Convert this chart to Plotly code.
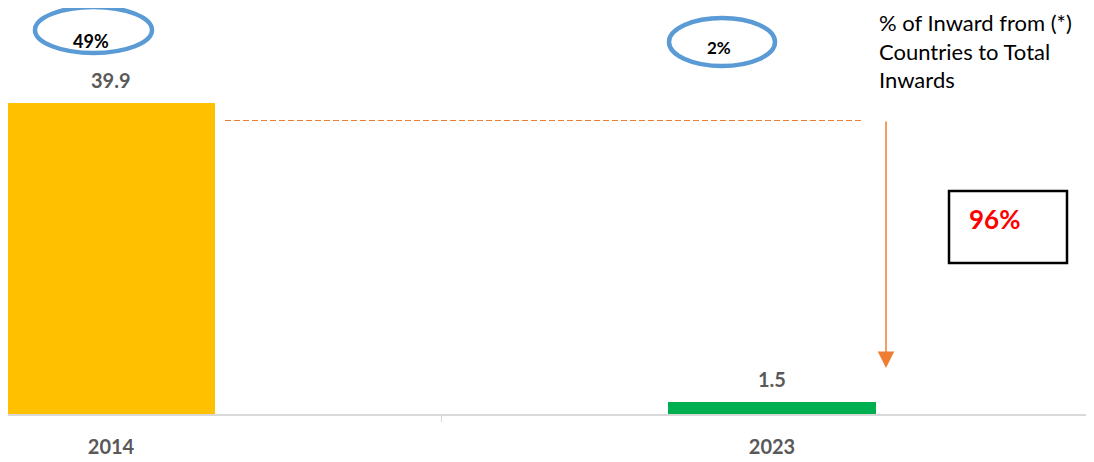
import plotly.graph_objects as go

categories = ["2014", "2023"]
values = [39.9, 1.5]
value_labels = ["39.9", "1.5"]
share_labels = ["49%", "2%"]
share_sizes = [18, 17]
bar_colors = ["#FFC000", "#00B050"]
decline_label = "96%"
note_text = "% of Inward from (*)<br>Countries to Total<br>Inwards"

W, H = 1094, 462
OFF = 8            # page body offset
B = 56
PLOT_H = H - B     # 406

def px(x):
    return (x - OFF) / W

def py(y):
    return (PLOT_H - (y - OFF)) / PLOT_H

xpos = list(range(len(categories)))
font_b = "Lato, Calibri, sans-serif"

fig = go.Figure()
fig.add_trace(go.Bar(
    x=xpos, y=values, width=0.315,
    marker=dict(color=bar_colors, line=dict(width=0)),
    hoverinfo="skip",
))

shapes = []
annotations = []

# value labels above bars
for xv, v, lab in zip(xpos, values, value_labels):
    annotations.append(dict(xref="x", yref="y", x=xv, y=v, yanchor="bottom",
                            xanchor="center", yshift=9, showarrow=False,
                            text="<b>%s</b>" % lab,
                            font=dict(family=font_b, size=20, color="#595959")))

# category boundary tick
shapes.append(dict(type="line", xref="x", yref="paper", x0=0.5, x1=0.5,
                   y0=0, y1=-8 / PLOT_H, line=dict(color="#D9D9D9", width=1)))

# ellipses with share labels
ell = [(35, 7, 152, 53), (669, 18, 775, 66)]
txt_pos = [(91, 41), (719, 48)]
for (x0, y0, x1, y1), (tx, ty), lab, fs in zip(ell, txt_pos, share_labels, share_sizes):
    shapes.append(dict(type="circle", xref="paper", yref="paper",
                       x0=px(x0), x1=px(x1), y0=py(y1), y1=py(y0),
                       line=dict(color="#5B9BD5", width=4.5)))
    annotations.append(dict(xref="paper", yref="paper", x=px(tx), y=py(ty),
                            xanchor="center", yanchor="middle",
                            text="<b>%s</b>" % lab, showarrow=False,
                            font=dict(family=font_b, size=fs, color="#000000")))

# partial ellipse at top-right corner
shapes.append(dict(type="circle", xref="paper", yref="paper",
                   x0=px(1030), x1=px(1083), y0=py(4), y1=py(-40),
                   line=dict(color="#2F5597", width=4)))

# dashed reference line
shapes.append(dict(type="line", xref="paper", yref="paper",
                   x0=px(225), x1=px(862), y0=py(120.5), y1=py(120.5),
                   line=dict(color="#ED7D31", width=1, dash="6px,3px")))

# arrow
annotations.append(dict(xref="paper", yref="paper", x=px(886), y=py(368),
                        ax=0, ay=-248, axref="pixel", ayref="pixel",
                        text="", showarrow=True, arrowhead=2, arrowsize=2.2,
                        arrowwidth=1.5, arrowcolor="#ED7D31"))

# box with decline
shapes.append(dict(type="rect", xref="paper", yref="paper",
                   x0=px(949), x1=px(1067), y0=py(263), y1=py(191),
                   line=dict(color="#000000", width=2.5), fillcolor="white"))
annotations.append(dict(xref="paper", yref="paper", x=px(994), y=py(219),
                        xanchor="center", yanchor="middle",
                        text="<b>%s</b>" % decline_label, showarrow=False,
                        font=dict(family=font_b, size=26, color="#FF0000")))

# note text
annotations.append(dict(xref="paper", yref="paper", x=px(877), y=py(7),
                        xanchor="left", yanchor="top", align="left",
                        text=note_text, showarrow=False,
                        font=dict(family=font_b, size=22, color="#000000")))

fig.update_layout(
    width=W, height=H,
    margin=dict(l=0, r=0, t=0, b=B),
    paper_bgcolor="white", plot_bgcolor="white",
    showlegend=False, bargap=0,
    shapes=shapes, annotations=annotations,
    xaxis=dict(range=[-(111 - OFF) / 661, (W - (111 - OFF)) / 661], tickvals=xpos,
               ticktext=["<b>%s</b>" % c for c in categories],
               tickfont=dict(family=font_b, size=20, color="#595959"),
               showgrid=False, zeroline=False, showline=True,
               linecolor="#D9D9D9", linewidth=2, ticks="", ticklen=0,
               ticklabelstandoff=14, fixedrange=True),
    yaxis=dict(range=[0, PLOT_H / 7.79], visible=False, showgrid=False,
               zeroline=False, fixedrange=True),
)

fig.write_html("out.html")
